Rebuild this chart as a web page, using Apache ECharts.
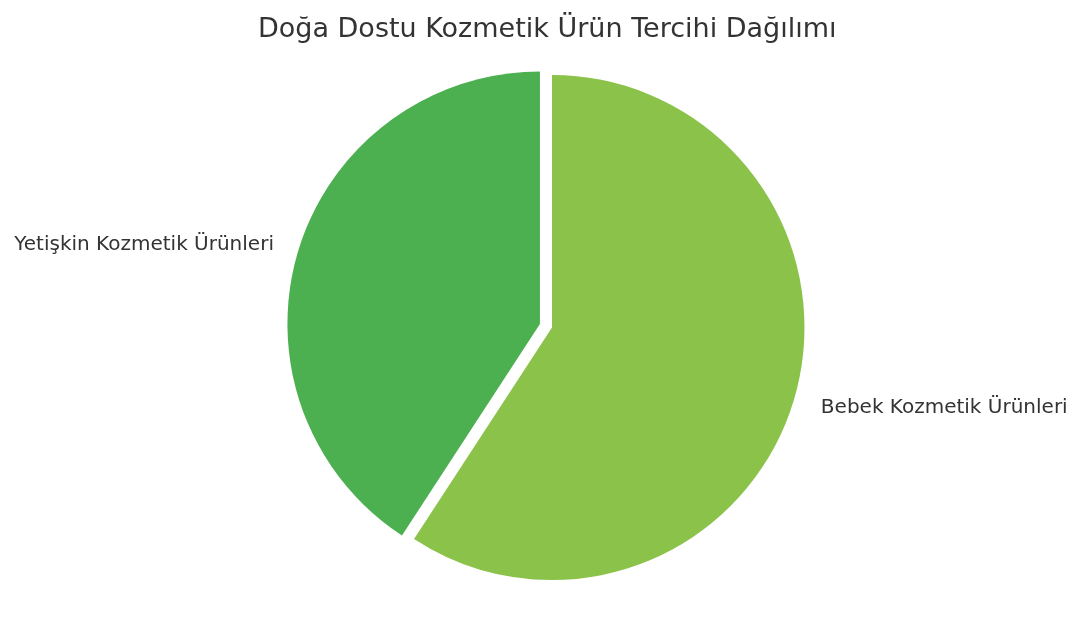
<!DOCTYPE html>
<html>
<head>
<meta charset="utf-8">
<script src="https://cdn.jsdelivr.net/npm/echarts@6/dist/echarts.min.js"></script>
<style>
html,body{margin:0;padding:0;background:#fff;}
#chart{width:1080px;height:618px;}
</style>
</head>
<body>
<div id="chart"></div>
<script>
const titleText = 'Doğa Dostu Kozmetik Ürün Tercihi Dağılımı';
const categories = ['Bebek Kozmetik Ürünleri', 'Yetişkin Kozmetik Ürünleri'];
const values = [59.2, 40.8];
const colors = ['#8bc34a', '#4caf50'];
const exploded = [false, true];

const FONT = "'DejaVu Sans', sans-serif";
const labelGap = [28, 25];

const chart = echarts.init(document.getElementById('chart'), null, {renderer: 'canvas'});
chart.setOption({
  animation: false,
  backgroundColor: '#ffffff',
  title: {
    text: titleText,
    left: 258,
    top: 16,
    padding: 0,
    textStyle: {fontFamily: FONT, fontSize: 27, fontWeight: 'normal', color: '#333333'}
  },
  series: [{
    type: 'pie',
    center: [552, 327.5],
    radius: 252.5,
    startAngle: 90,
    clockwise: true,
    avoidLabelOverlap: false,
    selectedMode: 'multiple',
    selectedOffset: 12.6,
    emphasis: {disabled: true},
    itemStyle: {borderWidth: 0},
    label: {
      show: true,
      position: 'outside',
      distanceToLabelLine: 0,
      fontFamily: FONT,
      fontSize: 20,
      color: '#333333'
    },
    labelLine: {show: false, length: 28, length2: 0},
    data: categories.map((c, i) => ({
      name: c,
      value: values[i],
      selected: exploded[i],
      itemStyle: {color: colors[i]},
      labelLine: {show: false, length: labelGap[i], length2: 0}
    }))
  }]
});
</script>
</body>
</html>
